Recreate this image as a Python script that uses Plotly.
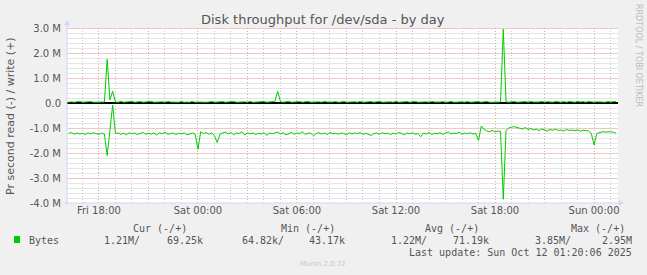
import plotly.graph_objects as go
import pandas as pd

# ---- data (values in millions of bytes per second, 10-minute samples) ----
start_time = "2025-10-10 16:10"
sample_step = "10min"

read_m = [
    -1.22, -1.18, -1.25, -1.20, -1.24, -1.21, -1.26, -1.20, -1.23, -1.19,
    -1.22, -1.26, -1.20, -1.24, -2.10, -1.15, -0.08, -1.22, -1.20, -1.25,
    -1.21, -1.27, -1.19, -1.23, -1.20, -1.26, -1.22, -1.18, -1.25, -1.21,
    -1.24, -1.20, -1.28, -1.19, -1.23, -1.17, -1.25, -1.22, -1.20, -1.26,
    -1.21, -1.24, -1.19, -1.27, -1.22, -1.20, -1.25, -1.85, -1.15, -1.22,
    -1.18, -1.25, -1.20, -1.30, -1.58, -1.25, -1.20, -1.16, -1.24, -1.18,
    -1.27, -1.20, -1.22, -1.15, -1.28, -1.19, -1.23, -1.20, -1.26, -1.21,
    -1.24, -1.18, -1.30, -1.20, -1.23, -1.19, -1.16, -1.24, -1.19, -1.27,
    -1.22, -1.18, -1.25, -1.20, -1.23, -1.15, -1.26, -1.21, -1.20, -1.31,
    -1.22, -1.19, -1.24, -1.20, -1.26, -1.18, -1.23, -1.21, -1.25, -1.20,
    -1.22, -1.27, -1.19, -1.24, -1.20, -1.22, -1.18, -1.26, -1.21, -1.24,
    -1.30, -1.22, -1.20, -1.25, -1.19, -1.23, -1.21, -1.26, -1.20, -1.24,
    -1.18, -1.22, -1.27, -1.20, -1.23, -1.19, -1.25, -1.22, -1.35, -1.20,
    -1.24, -1.18, -1.26, -1.21, -1.23, -1.19, -1.25, -1.20, -1.16, -1.24,
    -1.20, -1.22, -1.17, -1.25, -1.20, -1.23, -1.19, -1.24, -1.22, -1.50,
    -0.92, -1.05, -1.12, -1.15, -1.10, -1.16, -1.12, -1.14, -3.85, -1.10,
    -1.00, -0.96, -0.95, -0.98, -1.00, -1.04, -0.98, -1.06, -1.02, -1.08,
    -1.05, -1.10, -1.04, -1.07, -1.12, -1.06, -1.09, -1.05, -1.10, -1.08,
    -1.12, -1.06, -1.10, -1.08, -1.11, -1.07, -1.13, -1.09, -1.10, -1.12,
    -1.22, -1.68, -1.22, -1.18, -1.15, -1.16, -1.14, -1.15, -1.17, -1.21,
]

write_m = [
    0.03, 0.05, 0.03, 0.04, 0.07, 0.03, 0.04, 0.03, 0.06, 0.03,
    0.04, 0.03, 0.05, 0.04, 1.75, 0.12, 0.47, 0.04, 0.03, 0.07,
    0.03, 0.04, 0.03, 0.07, 0.03, 0.04, 0.06, 0.03, 0.04, 0.03,
    0.07, 0.03, 0.04, 0.03, 0.05, 0.03, 0.07, 0.04, 0.03, 0.04,
    0.03, 0.06, 0.03, 0.04, 0.03, 0.07, 0.03, 0.04, 0.03, 0.05,
    0.03, 0.04, 0.07, 0.03, 0.04, 0.03, 0.06, 0.03, 0.04, 0.03,
    0.07, 0.03, 0.04, 0.03, 0.05, 0.03, 0.07, 0.03, 0.04, 0.03,
    0.04, 0.06, 0.03, 0.04, 0.03, 0.07, 0.47, 0.05, 0.03, 0.04,
    0.07, 0.03, 0.04, 0.03, 0.06, 0.03, 0.04, 0.07, 0.03, 0.04,
    0.03, 0.05, 0.03, 0.07, 0.04, 0.03, 0.04, 0.06, 0.03, 0.04,
    0.07, 0.03, 0.04, 0.03, 0.05, 0.03, 0.07, 0.03, 0.04, 0.03,
    0.06, 0.03, 0.04, 0.07, 0.03, 0.04, 0.03, 0.05, 0.03, 0.07,
    0.03, 0.04, 0.03, 0.06, 0.03, 0.04, 0.07, 0.03, 0.04, 0.03,
    0.05, 0.03, 0.07, 0.04, 0.03, 0.04, 0.06, 0.03, 0.04, 0.07,
    0.03, 0.04, 0.03, 0.05, 0.03, 0.07, 0.03, 0.04, 0.03, 0.06,
    0.03, 0.04, 0.07, 0.03, 0.04, 0.03, 0.05, 0.04, 2.95, 0.05,
    0.03, 0.04, 0.07, 0.03, 0.04, 0.03, 0.06, 0.03, 0.07, 0.04,
    0.03, 0.04, 0.07, 0.03, 0.06, 0.04, 0.03, 0.07, 0.04, 0.03,
    0.06, 0.03, 0.07, 0.04, 0.03, 0.07, 0.04, 0.06, 0.03, 0.07,
    0.04, 0.03, 0.05, 0.03, 0.04, 0.03, 0.06, 0.04, 0.05, 0.07,
]

x_tick_vals = ["2025-10-10 18:00", "2025-10-10 21:00", "2025-10-11 00:00",
               "2025-10-11 03:00", "2025-10-11 06:00", "2025-10-11 09:00",
               "2025-10-11 12:00", "2025-10-11 15:00", "2025-10-11 18:00",
               "2025-10-11 21:00", "2025-10-12 00:00"]
x_tick_text = ["Fri 18:00", "", "Sat 00:00", "", "Sat 06:00", "",
               "Sat 12:00", "", "Sat 18:00", "", "Sun 00:00"]
y_tick_vals = [3, 2, 1, 0, -1, -2, -3, -4]
y_tick_text = ["3.0 M", "2.0 M", "1.0 M", "0.0", "-1.0 M", "-2.0 M", "-3.0 M", "-4.0 M"]

title_text = "Disk throughput for /dev/sda - by day"
y_title = "Pr second read (-) / write (+)"
legend_headers = ["Cur (-/+)", "Min (-/+)", "Avg (-/+)", "Max (-/+)"]
legend_values = ["1.21M/", "69.25k", "64.82k/", "43.17k", "1.22M/", "71.19k", "3.85M/", "2.95M"]
series_name = "Bytes"
last_update = "Last update: Sun Oct 12 01:20:06 2025"
footer = "Munin 2.0.72"
side_text = "RRDTOOL / TOBI OETIKER"

# ---- layout geometry ----
W, H = 647, 275
L, R, T, B = 67, 618, 28, 203
X_RANGE = ["2025-10-10 16:04", "2025-10-12 01:27"]
Y_MIN, Y_MAX = -4, 3
GREEN = "#00CC00"
FONT = "DejaVu Sans"
MONO = "DejaVu Sans Mono"
TXT = "#555555"


def px(x):
    return (x - L) / (R - L)


def py(y):
    return (B - y) / (B - T)


times = pd.date_range(start_time, periods=len(read_m), freq=sample_step)

fig = go.Figure()
fig.add_trace(go.Scatter(x=times[:len(write_m)], y=write_m, mode="lines",
                         line=dict(color=GREEN, width=1), hoverinfo="skip"))
fig.add_trace(go.Scatter(x=times, y=read_m, mode="lines",
                         line=dict(color=GREEN, width=1), hoverinfo="skip"))

grid_major = "#EAA0A0"
grid_minor = "#C4C4C4"
DASH = "1px,2px"

fig.update_xaxes(
    range=X_RANGE,
    tickmode="array", tickvals=x_tick_vals, ticktext=x_tick_text,
    showgrid=True, gridcolor=grid_major, griddash=DASH, gridwidth=1,
    minor=dict(tickmode="linear", dtick=3600000, tick0="2025-10-10 18:00",
               showgrid=True, gridcolor=grid_minor, griddash=DASH, gridwidth=1),
    tickfont=dict(family=FONT, size=10, color=TXT),
    ticks="", showline=False, zeroline=False,
)
fig.update_yaxes(
    range=[Y_MIN, Y_MAX],
    tickmode="array", tickvals=y_tick_vals, ticktext=y_tick_text,
    showgrid=False,
    tickfont=dict(family=FONT, size=10, color=TXT),
    ticks="", ticklabelstandoff=5,
    showline=False, zeroline=True, zerolinecolor="#000000", zerolinewidth=1.5,
)

# horizontal grid as light solid lines (minor every 0.2 M, major every 1 M)
h_major = "#F3C6C6"
h_minor = "#E6E6E6"
half_px = 0.5 * (Y_MAX - Y_MIN) / (B - T)
shapes = []
for k in range(Y_MIN * 5, Y_MAX * 5 + 1):
    if k == 0:
        continue
    v = k / 5
    major = (k % 5 == 0)
    shapes.append(dict(type="line", xref="x", yref="y", x0=X_RANGE[0], x1=X_RANGE[1],
                       y0=v - half_px, y1=v - half_px, layer="below",
                       line=dict(color=h_major if major else h_minor, width=1)))

AX = "#CFD6F8"
shapes += [
    dict(type="line", xref="paper", yref="paper", x0=0, x1=0, y0=py(B + 2), y1=py(T - 4),
         line=dict(color=AX, width=1)),
    dict(type="line", xref="paper", yref="paper", x0=px(L - 2), x1=px(R + 3), y0=0, y1=0,
         line=dict(color=AX, width=1)),
    dict(type="path", xref="paper", yref="paper",
         path=f"M {px(L-3)} {py(T-3)} L {px(L+3)} {py(T-3)} L {px(L)} {py(T-8)} Z",
         fillcolor=AX, line=dict(width=0)),
    dict(type="path", xref="paper", yref="paper",
         path=f"M {px(R+1)} {py(B-3)} L {px(R+1)} {py(B+3)} L {px(R+6)} {py(B)} Z",
         fillcolor=AX, line=dict(width=0)),
    dict(type="rect", xref="paper", yref="paper",
         x0=px(14), x1=px(20), y0=py(243), y1=py(236),
         fillcolor=GREEN, line=dict(width=0)),
]

ann = []


def text(x, y, s, xanchor="left", font=MONO, size=10, color=TXT, angle=0):
    ann.append(dict(x=px(x), y=py(y), xref="paper", yref="paper", text=s,
                    showarrow=False, xanchor=xanchor, yanchor="middle",
                    textangle=angle, font=dict(family=font, size=size, color=color)))


text(323, 19, title_text, xanchor="center", font=FONT, size=13, color="#555555")
text(10, 116, y_title, xanchor="center", font=FONT, size=11, angle=-90)
text(638, 55, side_text, xanchor="center", font=FONT, size=8, color="#BBBBBB", angle=90)

header_right = [189, 337, 481, 627]
for h, xr in zip(legend_headers, header_right):
    text(xr, 228, h, xanchor="right")
text(27, 240, series_name)
value_right = [142, 205, 286, 347, 429, 491, 573, 634]
for v, xr in zip(legend_values, value_right):
    text(xr, 240, v, xanchor="right")
text(634, 252, last_update, xanchor="right")
text(323, 264, footer, xanchor="center", font=FONT, size=7, color="#C8C8C8")

fig.update_layout(
    width=W, height=H,
    margin=dict(l=L, r=W - R, t=T, b=H - B),
    paper_bgcolor="#F0F0F0", plot_bgcolor="#FFFFFF",
    showlegend=False, shapes=shapes, annotations=ann,
)

fig.write_html("out.html", config={"displayModeBar": False})
